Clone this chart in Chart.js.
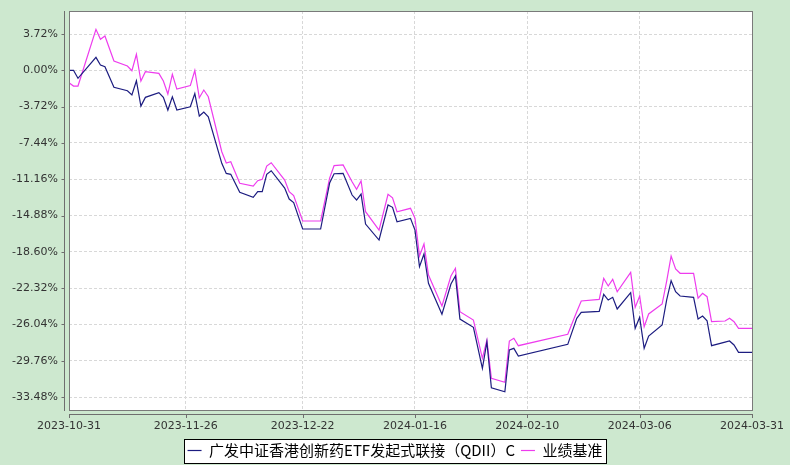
<!DOCTYPE html>
<html>
<head>
<meta charset="utf-8">
<script src="https://cdn.jsdelivr.net/npm/chart.js@4/dist/chart.umd.min.js"></script>
<style>
html,body{margin:0;padding:0;background:#cde8cf;}
#wrap{width:790px;height:465px;position:relative;}
</style>
</head>
<body>
<div id="wrap"><canvas id="c" width="790" height="465"></canvas></div>
<script>
const seriesNames = ['广发中证香港创新药ETF发起式联接（QDII）C', '业绩基准'];

const dates = [
'2023-10-31','2023-11-01','2023-11-02','2023-11-06','2023-11-07','2023-11-08','2023-11-10','2023-11-13','2023-11-14','2023-11-15',
'2023-11-16','2023-11-17','2023-11-20','2023-11-21','2023-11-22','2023-11-23','2023-11-24','2023-11-27','2023-11-28','2023-11-29',
'2023-11-30','2023-12-01','2023-12-04','2023-12-05','2023-12-06','2023-12-08','2023-12-11','2023-12-12','2023-12-13','2023-12-14',
'2023-12-15','2023-12-18','2023-12-19','2023-12-20','2023-12-22','2023-12-26','2023-12-28','2023-12-29','2023-12-31','2024-01-02',
'2024-01-03','2024-01-04','2024-01-05','2024-01-08','2024-01-10','2024-01-11','2024-01-12','2024-01-15','2024-01-16','2024-01-17',
'2024-01-18','2024-01-19','2024-01-22','2024-01-24','2024-01-25','2024-01-26','2024-01-29','2024-01-31','2024-02-01','2024-02-02',
'2024-02-05','2024-02-06','2024-02-07','2024-02-08','2024-02-19','2024-02-21','2024-02-22','2024-02-26','2024-02-27','2024-02-28',
'2024-02-29','2024-03-01','2024-03-04','2024-03-05','2024-03-06','2024-03-07','2024-03-08','2024-03-11','2024-03-12','2024-03-13',
'2024-03-14','2024-03-15','2024-03-18','2024-03-19','2024-03-20','2024-03-21','2024-03-22','2024-03-25','2024-03-26','2024-03-27',
'2024-03-28','2024-03-31'
];

const fundValues = [
0.00,0.00,-0.82,1.33,0.54,0.37,-1.74,-2.09,-2.53,-1.07,
-3.66,-2.77,-2.28,-2.77,-4.07,-2.71,-4.07,-3.73,-2.38,-4.68,
-4.27,-4.76,-9.53,-10.56,-10.66,-12.50,-13.01,-12.44,-12.44,-10.66,
-10.29,-12.06,-13.19,-13.55,-16.26,-16.26,-11.55,-10.60,-10.56,-12.78,
-13.29,-12.68,-15.75,-17.39,-13.80,-14.04,-15.52,-15.17,-16.37,-20.13,
-18.83,-21.83,-25.00,-21.90,-21.08,-25.49,-26.34,-30.54,-27.84,-32.53,
-32.94,-28.66,-28.49,-29.28,-28.08,-25.41,-24.80,-24.70,-22.96,-23.54,
-23.26,-24.46,-22.79,-26.44,-25.31,-28.49,-27.23,-26.10,-23.54,-21.56,
-22.69,-23.13,-23.26,-25.49,-25.18,-25.66,-28.22,-27.86,-27.74,-28.15,
-28.90,-28.90
];

const benchValues = [
-1.27,-1.61,-1.61,4.20,3.18,3.52,0.95,0.44,-0.04,1.64,
-1.10,-0.14,-0.31,-1.10,-2.43,-0.41,-1.92,-1.56,-0.02,-2.81,
-2.02,-2.71,-8.34,-9.50,-9.37,-11.58,-11.86,-11.31,-11.17,-9.81,
-9.47,-11.24,-12.44,-12.83,-15.44,-15.44,-11.04,-9.76,-9.70,-11.42,
-12.20,-11.34,-14.49,-16.37,-12.71,-13.06,-14.49,-14.14,-15.17,-19.03,
-17.80,-20.98,-24.15,-21.08,-20.29,-24.74,-25.59,-29.51,-27.64,-31.56,
-31.97,-27.74,-27.46,-28.22,-27.05,-24.74,-23.64,-23.47,-21.32,-22.10,
-21.42,-22.69,-20.70,-24.29,-23.13,-26.28,-24.97,-23.95,-21.62,-19.03,
-20.36,-20.80,-20.80,-23.36,-22.85,-23.20,-25.76,-25.69,-25.41,-25.76,
-26.44,-26.44
];

const xTickLabels = ['2023-10-31','2023-11-26','2023-12-22','2024-01-16','2024-02-10','2024-03-06','2024-03-31'];
const yTickValues = [3.72, 0, -3.72, -7.44, -11.16, -14.88, -18.60, -22.32, -26.04, -29.76, -33.48];

const Y_MIN = -34.81, Y_MAX = 6.08;
const AREA = {left: 69, right: 752, top: 11, bottom: 410};
const BOTTOM_PAD = -3;

const t0 = Date.UTC(2023, 9, 31);
const dayOf = s => (Date.parse(s + 'T00:00:00Z') - t0) / 86400000;

const framePlugin = {
  id: 'frame',
  beforeDraw(chart) {
    const {ctx, chartArea: a} = chart;
    ctx.save();
    ctx.fillStyle = '#ffffff';
    ctx.fillRect(a.left, a.top, a.right - a.left, a.bottom - a.top);
    const lg = chart.legend;
    if (lg && lg.legendHitBoxes && lg.legendHitBoxes.length) {
      let l = Infinity, r = -Infinity, t = Infinity, b = -Infinity;
      lg.legendHitBoxes.forEach(h => {
        l = Math.min(l, h.left); r = Math.max(r, h.left + h.width);
        t = Math.min(t, h.top); b = Math.max(b, h.top + h.height);
      });
      const x0 = Math.round(l - 4) + 0.5, x1 = Math.round(r + 4) + 0.5;
      const y0 = Math.round(t - 4.5) + 0.5, y1 = Math.round(b + 4.5) + 0.5;
      ctx.fillStyle = '#ffffff';
      ctx.fillRect(x0, y0, x1 - x0, y1 - y0);
      ctx.strokeStyle = '#000000';
      ctx.lineWidth = 1;
      ctx.strokeRect(x0, y0, x1 - x0, y1 - y0);
    }
    ctx.restore();
  },
  afterDraw(chart) {
    const {ctx, chartArea: a} = chart;
    const xs = chart.scales.x, ys = chart.scales.y;
    ctx.save();
    ctx.lineWidth = 1;
    ctx.strokeStyle = '#7a7a7a';
    ctx.strokeRect(a.left + 0.5, a.top + 0.5, a.right - a.left, a.bottom - a.top);
    // y axis line (offset left)
    ctx.strokeStyle = '#6e6e6e';
    ctx.beginPath();
    ctx.moveTo(a.left - 4.5, a.top);
    ctx.lineTo(a.left - 4.5, a.bottom + 1);
    ys.ticks.forEach(t => {
      const py = Math.round(ys.getPixelForValue(t.value)) + 0.5;
      ctx.moveTo(a.left - 7.5, py);
      ctx.lineTo(a.left - 4.5, py);
    });
    // x axis line (offset below)
    const ay = a.bottom + 4.5;
    ctx.moveTo(a.left, ay);
    ctx.lineTo(a.right + 1, ay);
    xs.ticks.forEach(t => {
      const px = Math.round(xs.getPixelForValue(t.value)) + 0.5;
      ctx.moveTo(px, ay);
      ctx.lineTo(px, ay + 3.5);
    });
    ctx.stroke();
    ctx.restore();
  }
};

const toPoints = vals => dates.map((d, i) => ({x: dayOf(d), y: vals[i]}));

new Chart(document.getElementById('c'), {
  type: 'line',
  data: {
    datasets: [
      {label: seriesNames[0], data: toPoints(fundValues), borderColor: '#1c1c80', backgroundColor: '#1c1c80',
       borderWidth: 1.2, pointRadius: 0, tension: 0, fill: false},
      {label: seriesNames[1], data: toPoints(benchValues), borderColor: '#ee3cee', backgroundColor: '#ee3cee',
       borderWidth: 1.2, pointRadius: 0, tension: 0, fill: false}
    ]
  },
  options: {
    responsive: false,
    animation: false,
    devicePixelRatio: 1,
    layout: {padding: {top: AREA.top, left: 0, right: 0, bottom: BOTTOM_PAD}},
    plugins: {
      tooltip: {enabled: false},
      legend: {
        display: true,
        position: 'bottom',
        labels: {
          usePointStyle: true,
          pointStyle: 'line',
          pointStyleWidth: 14,
          boxHeight: 15,
          padding: 6,
          color: '#000000',
          font: {family: '"Noto Sans CJK SC", sans-serif', size: 15}
        }
      }
    },
    scales: {
      x: {
        type: 'linear',
        min: 0,
        max: dayOf(xTickLabels[xTickLabels.length - 1]),
        afterBuildTicks: s => { s.ticks = xTickLabels.map(d => ({value: dayOf(d)})); },
        afterFit: s => {
          s.paddingLeft = 0;
          s.paddingRight = 790 - AREA.right;
          s.height = s.chart.height - BOTTOM_PAD - s.chart.legend.height - AREA.bottom;
        },
        ticks: {
          autoSkip: false, maxRotation: 0, minRotation: 0, padding: 10,
          color: '#333333',
          font: {family: '"DejaVu Sans", sans-serif', size: 11},
          callback: (v, i) => xTickLabels[i]
        },
        grid: {display: true, color: '#d8d8d8', lineWidth: 1, drawTicks: false},
        border: {display: false, dash: [3, 2]}
      },
      y: {
        type: 'linear',
        min: Y_MIN,
        max: Y_MAX,
        afterBuildTicks: s => { s.ticks = yTickValues.map(v => ({value: v})); },
        afterFit: s => { s.width = AREA.left; s.paddingTop = 0; s.paddingBottom = 0; },
        ticks: {
          autoSkip: false, padding: 11,
          color: '#333333',
          font: {family: '"DejaVu Sans", sans-serif', size: 11},
          callback: v => v.toFixed(2) + '%'
        },
        grid: {display: true, color: '#d8d8d8', lineWidth: 1, drawTicks: false},
        border: {display: false, dash: [3, 2]}
      }
    }
  },
  plugins: [framePlugin]
});
</script>
</body>
</html>
